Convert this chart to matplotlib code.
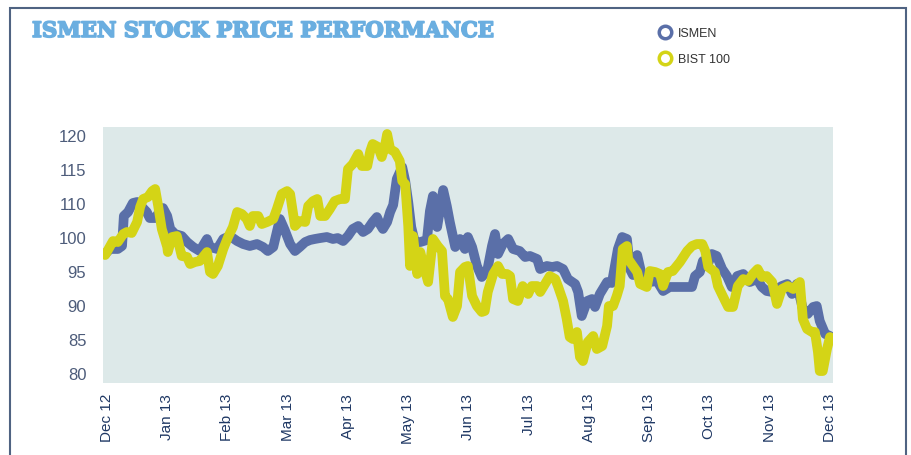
import matplotlib
matplotlib.use("Agg")
import matplotlib.pyplot as plt
import matplotlib.patheffects as pe
from matplotlib.lines import Line2D
from matplotlib.patches import Rectangle

# months since Dec 12 (0 = Dec 12, 12 = Dec 13)
month_labels = ["Dec 12", "Jan 13", "Feb 13", "Mar 13", "Apr 13", "May 13", "Jun 13",
                "Jul 13", "Aug 13", "Sep 13", "Oct 13", "Nov 13", "Dec 13"]
ytick_labels = ["80", "85", "90", "95", "100", "110", "115", "120"]

ismen_x = [-0.03, 0.05, 0.18, 0.25, 0.28, 0.35, 0.43, 0.50, 0.58, 0.66, 0.71, 0.80, 0.88, 0.93,
           1.00, 1.05, 1.13, 1.24, 1.33, 1.43, 1.54, 1.66, 1.71, 1.83, 1.93, 2.04, 2.16, 2.26,
           2.37, 2.49, 2.59, 2.67, 2.76, 2.82, 2.87, 2.95, 3.04, 3.12, 3.20, 3.29, 3.37, 3.45,
           3.54, 3.65, 3.75, 3.83, 3.92, 4.00, 4.08, 4.17, 4.25, 4.33, 4.41, 4.48, 4.53, 4.58,
           4.65, 4.70, 4.75, 4.81, 4.90, 4.95, 5.00, 5.05, 5.11, 5.20, 5.31, 5.36, 5.41, 5.48,
           5.58, 5.64, 5.69, 5.78, 5.86, 5.94, 5.99, 6.06, 6.14, 6.22, 6.31, 6.39, 6.44, 6.49,
           6.57, 6.66, 6.74, 6.85, 6.94, 7.02, 7.14, 7.19, 7.30, 7.39, 7.47, 7.57, 7.65, 7.77,
           7.82, 7.88, 7.97, 8.05, 8.10, 8.18, 8.30, 8.38, 8.43, 8.48, 8.55, 8.63, 8.68, 8.73,
           8.80, 8.88, 8.96, 9.01, 9.13, 9.23, 9.34, 9.51, 9.71, 9.76, 9.84, 9.89, 9.96, 10.04,
           10.12, 10.21, 10.29, 10.37, 10.46, 10.56, 10.67, 10.79, 10.87, 10.95, 11.04, 11.12,
           11.20, 11.29, 11.37, 11.45, 11.55, 11.63, 11.72, 11.78, 11.83, 11.92, 12.00]
ismen_y = [97.50, 98.24, 98.24, 98.68, 103.09, 103.68, 105.00, 105.15, 104.41, 103.68, 102.79,
           102.79, 103.82, 104.26, 103.09, 101.18, 100.44, 100.15, 99.26, 98.53, 97.94, 99.71,
           98.53, 98.24, 99.71, 100.15, 99.41, 98.97, 98.68, 98.97, 98.53, 97.94, 98.53, 100.74,
           102.65, 101.03, 98.97, 97.94, 98.53, 99.26, 99.56, 99.71, 99.85, 100.00, 99.71, 99.85,
           99.41, 100.15, 101.18, 101.62, 100.74, 101.18, 102.21, 102.94, 101.91, 101.18, 102.21,
           103.68, 104.71, 108.53, 110.29, 108.24, 105.15, 101.47, 99.26, 99.26, 99.56, 103.82,
           106.03, 101.47, 106.91, 104.56, 102.21, 98.53, 99.71, 98.24, 100.00, 98.53, 95.74,
           94.12, 95.00, 98.68, 100.44, 97.50, 98.97, 99.71, 98.24, 97.94, 97.06, 97.21, 96.76,
           95.29, 95.74, 95.59, 95.74, 95.29, 93.82, 93.09, 91.91, 88.38, 90.59, 90.88, 89.71,
           91.62, 93.38, 93.24, 95.74, 98.24, 100.00, 99.71, 95.29, 94.41, 97.35, 94.26, 93.53,
           93.38, 93.53, 92.06, 92.65, 92.65, 92.65, 94.26, 94.85, 96.47, 95.74, 97.50, 97.21,
           95.29, 94.26, 92.65, 94.26, 94.56, 93.38, 93.82, 92.65, 92.06, 91.91, 92.35, 92.79,
           93.09, 91.62, 93.09, 89.41, 88.68, 89.71, 89.85, 87.65, 85.74, 85.44]

bist_x = [-0.03, 0.10, 0.18, 0.27, 0.33, 0.41, 0.50, 0.55, 0.60, 0.68, 0.75, 0.80, 0.85, 0.91,
          1.00, 1.01, 1.08, 1.16, 1.24, 1.33, 1.38, 1.46, 1.54, 1.66, 1.71, 1.76, 1.84, 1.93,
          2.01, 2.09, 2.16, 2.24, 2.32, 2.37, 2.42, 2.51, 2.57, 2.66, 2.76, 2.82, 2.90, 2.99,
          3.04, 3.12, 3.20, 3.29, 3.34, 3.42, 3.49, 3.54, 3.62, 3.70, 3.78, 3.87, 3.95, 4.00,
          4.08, 4.17, 4.23, 4.32, 4.37, 4.41, 4.50, 4.56, 4.61, 4.65, 4.70, 4.78, 4.86, 4.90,
          4.95, 5.00, 5.03, 5.08, 5.15, 5.20, 5.24, 5.33, 5.41, 5.49, 5.56, 5.61, 5.66, 5.74,
          5.81, 5.86, 5.94, 5.99, 6.06, 6.14, 6.22, 6.27, 6.32, 6.41, 6.49, 6.56, 6.64, 6.69,
          6.74, 6.82, 6.90, 6.99, 7.05, 7.14, 7.19, 7.27, 7.35, 7.44, 7.49, 7.57, 7.63, 7.68,
          7.73, 7.80, 7.85, 7.90, 7.98, 8.07, 8.13, 8.22, 8.30, 8.33, 8.40, 8.46, 8.51, 8.56,
          8.63, 8.65, 8.73, 8.80, 8.85, 8.96, 9.01, 9.10, 9.18, 9.23, 9.31, 9.39, 9.51, 9.63,
          9.71, 9.79, 9.88, 9.93, 9.98, 10.09, 10.14, 10.22, 10.31, 10.39, 10.47, 10.56, 10.64,
          10.72, 10.80, 10.87, 10.95, 11.04, 11.12, 11.20, 11.30, 11.39, 11.50, 11.55, 11.62,
          11.70, 11.75, 11.80, 11.83, 11.88, 11.95, 12.00]
bist_y = [97.35, 99.41, 99.26, 100.44, 100.74, 100.59, 102.21, 104.41, 105.59, 105.88, 106.76,
          107.06, 104.56, 101.18, 98.53, 97.79, 100.00, 100.15, 97.21, 97.06, 96.03, 96.32,
          96.47, 97.79, 94.85, 94.56, 95.74, 98.24, 100.00, 101.47, 103.68, 103.38, 102.65,
          101.62, 103.09, 103.09, 101.91, 102.21, 102.65, 104.12, 106.32, 106.76, 106.32, 101.62,
          102.35, 102.21, 104.56, 105.29, 105.59, 103.09, 103.09, 104.12, 105.29, 105.59, 105.59,
          110.00, 110.74, 112.21, 110.44, 110.44, 112.65, 113.68, 113.24, 111.76, 113.24, 115.15,
          112.94, 112.50, 111.18, 108.24, 107.79, 101.62, 95.74, 100.15, 94.56, 97.79, 96.32,
          93.38, 99.71, 98.68, 97.94, 91.32, 90.88, 88.24, 89.85, 94.85, 95.59, 95.74, 91.32,
          89.85, 88.97, 89.12, 91.91, 94.56, 95.74, 94.56, 94.56, 94.26, 90.88, 90.59, 92.79,
          91.62, 92.79, 92.79, 91.91, 93.09, 94.26, 93.82, 92.65, 90.59, 87.94, 85.29, 85.00,
          86.03, 82.35, 81.76, 84.56, 85.44, 83.53, 83.97, 86.91, 89.85, 89.85, 91.32, 92.79,
          98.24, 98.68, 96.76, 95.74, 94.85, 93.09, 92.65, 95.00, 94.85, 94.56, 92.79, 94.85,
          95.00, 96.32, 97.94, 98.68, 98.97, 98.97, 97.94, 95.59, 94.85, 92.79, 91.32, 89.71,
          89.71, 92.79, 93.82, 93.53, 94.56, 95.29, 94.12, 94.26, 93.38, 90.15, 92.35, 92.79,
          92.35, 93.38, 87.94, 86.47, 86.03, 86.03, 83.09, 80.29, 80.29, 83.53, 85.29]

blue = "#5a6fa8"
yellow = "#d4d416"

fig = plt.figure(figsize=(9.11, 4.56), dpi=100)

# frame around the panel (open at the bottom)
fig.patches.append(Rectangle((10 / 911, -0.05), 896 / 911, 1.05 - 9 / 456,
                             transform=fig.transFigure, fill=False,
                             edgecolor="#4f6382", linewidth=1.5))

ax = fig.add_axes([103 / 911, 72 / 456, 730 / 911, 256 / 456])
ax.set_facecolor("#dde9e9")

ax.plot(ismen_x, ismen_y, color=blue, lw=7, solid_joinstyle="round",
        solid_capstyle="round", label="ISMEN")
ax.plot(bist_x, bist_y, color=yellow, lw=7, solid_joinstyle="round",
        solid_capstyle="round", label="BIST 100")

ax.set_xlim(-0.066, 12.05)
ax.set_ylim(78.53, 116.18)

ax.set_xticks(range(13))
ax.set_xticklabels(month_labels, rotation=90, fontsize=11, color="#1f3864",
                   family="Liberation Sans")
ax.set_yticks(range(80, 120, 5))
ax.set_yticklabels(ytick_labels, fontsize=12, color="#4d5c7a", family="Liberation Sans")
ax.tick_params(axis="both", length=0)
ax.tick_params(axis="y", pad=12)
ax.tick_params(axis="x", pad=7)
for s in ax.spines.values():
    s.set_visible(False)

fig.text(32 / 911, 1 - 32 / 456, "ISMEN STOCK PRICE PERFORMANCE", fontsize=15.3,
         fontweight="bold", family="DejaVu Serif", color="#6aaee0", va="center",
         path_effects=[pe.withStroke(linewidth=1.2, foreground="#6aaee0")])

handles = [Line2D([], [], marker="o", linestyle="none", markerfacecolor="none",
                  markeredgecolor=c, markeredgewidth=2.5, markersize=9)
           for c in (blue, yellow)]
fig.legend(handles, ["ISMEN", "BIST 100"], loc="upper left",
           bbox_to_anchor=(655 / 911, 1 - 22 / 456), frameon=False,
           handlelength=0.6, handletextpad=0.7, labelspacing=1.1,
           prop={"family": "Liberation Sans", "size": 9}, labelcolor="#333333",
           borderpad=0)

fig.savefig("out.png", dpi=100)
